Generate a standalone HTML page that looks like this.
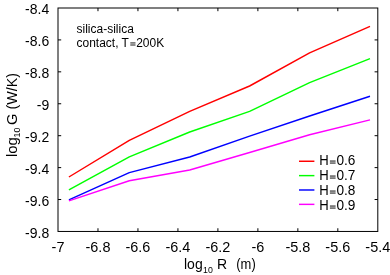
<!DOCTYPE html>
<html><head><meta charset="utf-8"><style>
html,body{margin:0;padding:0;background:#fff;}
svg{display:block;will-change:transform}
text{font-family:"Liberation Sans",sans-serif;fill:#000}
</style></head><body>
<svg width="390" height="275" viewBox="0 0 390 275">
<rect width="390" height="275" fill="#fff"/>
<rect x="58.0" y="8.0" width="319.80" height="223.45" fill="none" stroke="#000" stroke-width="1"/>
<path d="M97.97,231.45v-3.2M97.97,8.0v3.2M137.95,231.45v-3.2M137.95,8.0v3.2M177.93,231.45v-3.2M177.93,8.0v3.2M217.90,231.45v-3.2M217.90,8.0v3.2M257.88,231.45v-3.2M257.88,8.0v3.2M297.85,231.45v-3.2M297.85,8.0v3.2M337.82,231.45v-3.2M337.82,8.0v3.2M58.0,39.92h3.2M377.8,39.92h-3.2M58.0,71.84h3.2M377.8,71.84h-3.2M58.0,103.76h3.2M377.8,103.76h-3.2M58.0,135.69h3.2M377.8,135.69h-3.2M58.0,167.61h3.2M377.8,167.61h-3.2M58.0,199.53h3.2M377.8,199.53h-3.2" stroke="#000" stroke-width="1" fill="none"/>
<text transform="translate(58.00,252.25) scale(1,1.0221)" font-size="14.45" text-anchor="middle">-7</text>
<text transform="translate(97.97,252.25) scale(1,1.0221)" font-size="14.45" text-anchor="middle">-6.8</text>
<text transform="translate(137.95,252.25) scale(1,1.0221)" font-size="14.45" text-anchor="middle">-6.6</text>
<text transform="translate(177.93,252.25) scale(1,1.0221)" font-size="14.45" text-anchor="middle">-6.4</text>
<text transform="translate(217.90,252.25) scale(1,1.0221)" font-size="14.45" text-anchor="middle">-6.2</text>
<text transform="translate(257.88,252.25) scale(1,1.0221)" font-size="14.45" text-anchor="middle">-6</text>
<text transform="translate(297.85,252.25) scale(1,1.0221)" font-size="14.45" text-anchor="middle">-5.8</text>
<text transform="translate(337.82,252.25) scale(1,1.0221)" font-size="14.45" text-anchor="middle">-5.6</text>
<text transform="translate(377.80,252.25) scale(1,1.0221)" font-size="14.45" text-anchor="middle">-5.4</text>
<text transform="translate(49.20,14.30) scale(1,1.0550)" font-size="14.0" text-anchor="end">-8.4</text>
<text transform="translate(49.20,46.22) scale(1,1.0550)" font-size="14.0" text-anchor="end">-8.6</text>
<text transform="translate(49.20,78.14) scale(1,1.0550)" font-size="14.0" text-anchor="end">-8.8</text>
<text transform="translate(49.20,110.06) scale(1,1.0550)" font-size="14.0" text-anchor="end">-9</text>
<text transform="translate(49.20,141.99) scale(1,1.0550)" font-size="14.0" text-anchor="end">-9.2</text>
<text transform="translate(49.20,173.91) scale(1,1.0550)" font-size="14.0" text-anchor="end">-9.4</text>
<text transform="translate(49.20,205.83) scale(1,1.0550)" font-size="14.0" text-anchor="end">-9.6</text>
<text transform="translate(49.20,237.75) scale(1,1.0550)" font-size="14.0" text-anchor="end">-9.8</text>
<polyline points="68.9,177.0 129.3,140.3 189.7,111.3 249.6,86.0 309.6,52.9 370.0,26.4" fill="none" stroke="#f00" stroke-width="1.45" stroke-linejoin="round"/>
<polyline points="68.9,189.9 129.3,156.9 189.7,132.0 249.6,111.4 309.6,82.7 370.0,58.6" fill="none" stroke="#0f0" stroke-width="1.45" stroke-linejoin="round"/>
<polyline points="68.9,199.8 129.3,172.6 189.7,157.0 249.6,136.1 309.6,116.0 370.0,96.3" fill="none" stroke="#00f" stroke-width="1.45" stroke-linejoin="round"/>
<polyline points="68.9,200.9 129.3,180.8 189.7,170.0 249.6,152.5 309.6,134.8 370.0,119.9" fill="none" stroke="#f0f" stroke-width="1.45" stroke-linejoin="round"/>
<text transform="translate(76.50,33.10) scale(1,1.0550)" font-size="12" text-anchor="start">silica-silica</text>
<text transform="translate(76.50,46.70) scale(1,1.0550)" font-size="12" text-anchor="start">contact, T</text>
<path d="M130.3,42.95h5.2M130.3,45.0h5.2" stroke="#000" stroke-width="0.9" fill="none"/>
<text transform="translate(136.20,46.70) scale(1,1.0550)" font-size="12" text-anchor="start">200K</text>
<line x1="299" y1="161.25" x2="314.4" y2="161.25" stroke="#f00" stroke-width="1.45"/>
<text transform="translate(319.30,164.95) scale(1,1.0550)" font-size="13.1" text-anchor="start">H</text>
<path d="M329.9,161.05h5.7M329.9,163.05h5.7" stroke="#000" stroke-width="0.95" fill="none"/>
<text transform="translate(336.40,164.95) scale(1,1.0550)" font-size="13.65" text-anchor="start">0.6</text>
<line x1="299" y1="175.62" x2="314.4" y2="175.62" stroke="#0f0" stroke-width="1.45"/>
<text transform="translate(319.30,179.95) scale(1,1.0550)" font-size="13.1" text-anchor="start">H</text>
<path d="M329.9,176.05h5.7M329.9,178.05h5.7" stroke="#000" stroke-width="0.95" fill="none"/>
<text transform="translate(336.40,179.95) scale(1,1.0550)" font-size="13.65" text-anchor="start">0.7</text>
<line x1="299" y1="189.99" x2="314.4" y2="189.99" stroke="#00f" stroke-width="1.45"/>
<text transform="translate(319.30,194.95) scale(1,1.0550)" font-size="13.1" text-anchor="start">H</text>
<path d="M329.9,191.05h5.7M329.9,193.05h5.7" stroke="#000" stroke-width="0.95" fill="none"/>
<text transform="translate(336.40,194.95) scale(1,1.0550)" font-size="13.65" text-anchor="start">0.8</text>
<line x1="299" y1="204.36" x2="314.4" y2="204.36" stroke="#f0f" stroke-width="1.45"/>
<text transform="translate(319.30,209.95) scale(1,1.0550)" font-size="13.1" text-anchor="start">H</text>
<path d="M329.9,206.05h5.7M329.9,208.05h5.7" stroke="#000" stroke-width="0.95" fill="none"/>
<text transform="translate(336.40,209.95) scale(1,1.0550)" font-size="13.65" text-anchor="start">0.9</text>
<text transform="translate(184.00,269.30) scale(1,1.0550)" font-size="14.0" text-anchor="start">log</text>
<text transform="translate(203.00,272.65) scale(1,0.9700)" font-size="8.8" text-anchor="start">10</text>
<text transform="translate(216.90,269.30) scale(1,1.0550)" font-size="14.0" text-anchor="start">R</text>
<text transform="translate(236.30,269.30) scale(1,1.0550)" font-size="14.0" text-anchor="start" textLength="19.4" lengthAdjust="spacingAndGlyphs">(m)</text>
<g transform="translate(16.6,157.0) rotate(-90) scale(1.055,1)"><text x="0" y="0" font-size="14">log</text><text x="18.6" y="3.4" font-size="8.4">10</text><text x="30.4" y="0" font-size="14">G</text><text x="45.1" y="0" font-size="14" textLength="34.5" lengthAdjust="spacingAndGlyphs">(W/K)</text></g>
</svg>
</body></html>
